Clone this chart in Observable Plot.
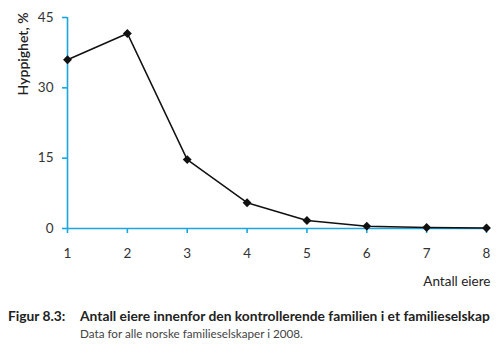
<!DOCTYPE html>
<html>
<head>
<meta charset="utf-8">
<script src="https://cdn.jsdelivr.net/npm/d3@7"></script>
<script src="https://cdn.jsdelivr.net/npm/@observablehq/plot@0.6"></script>
<style>
  html, body { margin: 0; padding: 0; background: #fff; }
  body { width: 500px; height: 354px; overflow: hidden; font-family: Lato, sans-serif; }
  #chart svg { display: block; }
  .cap { position: relative; height: 54px; color: #222; }
  .cap span { position: absolute; line-height: 16px; white-space: nowrap; }
  .cap .num { left: 8px; top: 8px; font-weight: 700; font-size: 13.8px; }
  .cap .title { left: 80px; top: 8px; font-weight: 700; font-size: 13.8px; }
  .cap .sub { left: 80px; top: 25px; font-size: 11.7px; color: #444; }
</style>
</head>
<body>
<div id="chart"></div>
<div class="cap">
  <span class="num">Figur 8.3:</span>
  <span class="title">Antall eiere innenfor den kontrollerende familien i et familieselskap</span>
  <span class="sub">Data for alle norske familieselskaper i 2008.</span>
</div>
<script>
const owners = [1, 2, 3, 4, 5, 6, 7, 8];
const frequency = [36.0, 41.6, 14.7, 5.5, 1.7, 0.5, 0.2, 0.1];
const yTicks = [0, 15, 30, 45];
const xLabel = "Antall eiere";
const yLabel = "Hyppighet, %";

const data = owners.map((o, i) => ({owners: o, freq: frequency[i]}));
const blue = "#1aa6e0";

const chart = Plot.plot({
  width: 500,
  height: 300,
  marginLeft: 67,
  marginRight: 14,
  marginTop: 17,
  marginBottom: 72,
  style: {fontFamily: "Lato, sans-serif", fontSize: "13px", color: "#333"},
  x: {domain: [1, 8]},
  y: {domain: [0, 45]},
  marks: [
    Plot.ruleY([0], {stroke: blue, strokeWidth: 1.6}),
    Plot.ruleX([1], {stroke: blue, strokeWidth: 1.6}),
    Plot.axisX({ticks: owners, tickFormat: d => d, stroke: blue, strokeWidth: 1.6, tickSize: 5, tickPadding: 15, label: null, fill: "#333", fontSize: 13.5}),
    Plot.axisY({ticks: yTicks, tickSize: 5, tickPadding: 9, stroke: blue, strokeWidth: 1.6, label: null, fill: "#333", fontSize: 13.5}),
    Plot.line(data, {x: "owners", y: "freq", stroke: "#111", strokeWidth: 1.5}),
    Plot.dot(data, {x: "owners", y: "freq", symbol: "diamond2", r: 4, fill: "#111", stroke: "none"}),
    Plot.text([xLabel], {frameAnchor: "bottom-right", text: d => d, textAnchor: "end", dy: 57, dx: 4, fontSize: 13.5, fill: "#222"}),
    Plot.text([yLabel], {frameAnchor: "top-left", text: d => d, textAnchor: "end", rotate: -90, dx: -49, dy: -5, fontSize: 14, fontWeight: 600, fill: "#222"})
  ]
});
document.getElementById("chart").appendChild(chart);
</script>
</body>
</html>
